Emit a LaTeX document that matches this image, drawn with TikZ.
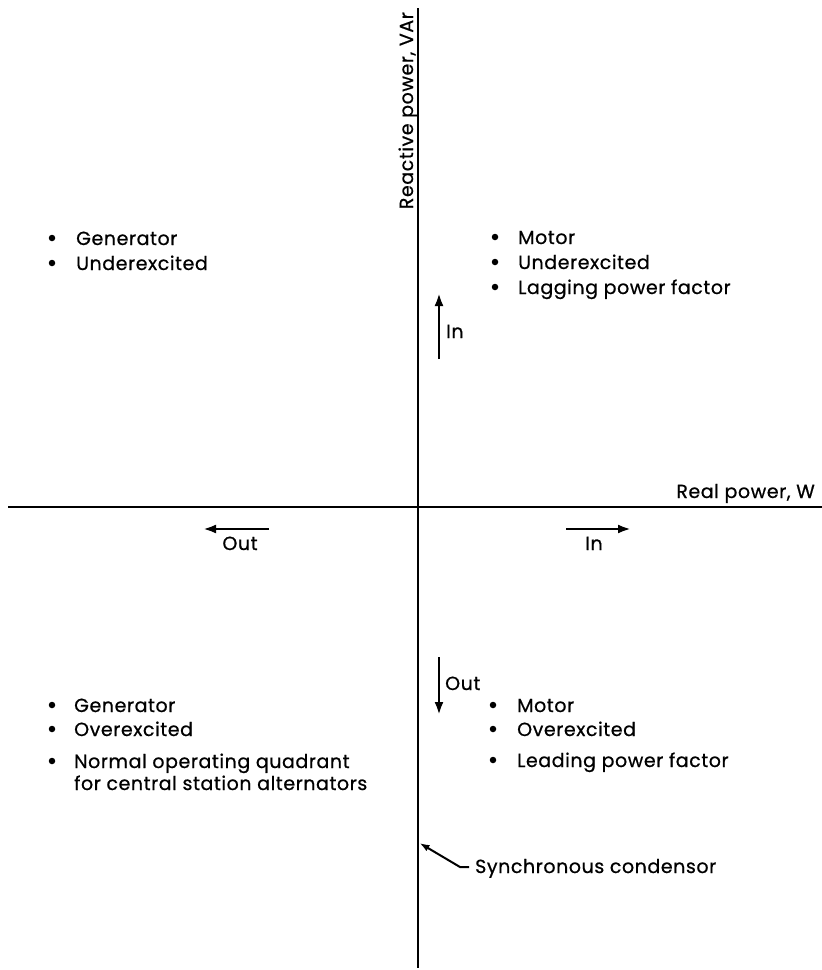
\documentclass[tikz,border=0pt]{standalone}
\usepackage{fontspec}
\newfontfamily\lbfont[LetterSpace=3,FakeBold=0.7]{Poppins}
\usetikzlibrary{arrows.meta}
\begin{document}
\begin{tikzpicture}[x=1pt,y=-1pt,
  lbl/.style={font=\lbfont\fontsize{19}{22}\selectfont, inner sep=0pt, anchor=base west},
  axisline/.style={line width=1.8pt},
  dirarrow/.style={line width=2.8pt, -{Latex[length=13pt,width=9pt]}},
  leader/.style={line width=2pt, -{Latex[length=10pt,width=7pt]}},
  dot/.style={circle, fill=black, inner sep=0pt, minimum size=6.5pt}]
\useasboundingbox (0,0) rectangle (822,970);
% axes
\coordinate (vtop) at (418,8);
\coordinate (vbot) at (418,968);
\coordinate (hleft) at (8,507);
\coordinate (hright) at (822,507);
\draw[axisline] (vtop) -- (vbot);
\draw[axisline] (hleft) -- (hright);
\node[lbl, anchor=base east, rotate=90] (ylab) at (413,12) {Reactive power, VAr};
\node[lbl, anchor=base east] (xlab) at (815,498) {Real power, W};
% direction arrows
\coordinate (inqa) at (439,359);
\coordinate (inqb) at (439,293);
\draw[dirarrow] (inqa) -- (inqb);
\node[lbl] (inq) at (446,338) {In};
\coordinate (outpa) at (269,529);
\coordinate (outpb) at (203,529);
\draw[dirarrow] (outpa) -- (outpb);
\node[lbl, anchor=base] (outp) at (240,550) {Out};
\coordinate (inpa) at (566,529);
\coordinate (inpb) at (631,529);
\draw[dirarrow] (inpa) -- (inpb);
\node[lbl, anchor=base] (inp) at (594,550) {In};
\coordinate (outqa) at (439,657);
\coordinate (outqb) at (439,715);
\draw[dirarrow] (outqa) -- (outqb);
\node[lbl] (outq) at (445,690) {Out};
% upper left
\node[dot] (d1) at (52,238) {};
\node[lbl] (t1) at (76,245) {Generator};
\node[dot] (d2) at (52,263) {};
\node[lbl] (t2) at (76,270) {Underexcited};
% upper right
\node[dot] (d3) at (495,237) {};
\node[lbl] (t3) at (518,244) {Motor};
\node[dot] (d4) at (495,262) {};
\node[lbl] (t4) at (518,269) {Underexcited};
\node[dot] (d5) at (495,287) {};
\node[lbl] (t5) at (518,294) {Lagging power factor};
% lower left
\node[dot] (d6) at (52,705) {};
\node[lbl] (t6) at (74,712) {Generator};
\node[dot] (d7) at (52,729) {};
\node[lbl] (t7) at (74,736) {Overexcited};
\node[dot] (d8) at (52,761) {};
\node[lbl] (t8) at (74,768) {Normal operating quadrant};
\node[lbl] (t9) at (74,790) {for central station alternators};
% lower right
\node[dot] (d9) at (493,705) {};
\node[lbl] (t10) at (517,712) {Motor};
\node[dot] (d10) at (493,729) {};
\node[lbl] (t11) at (517,736) {Overexcited};
\node[dot] (d11) at (493,760) {};
\node[lbl] (t12) at (517,767) {Leading power factor};
% synchronous condensor
\node[lbl] (sync) at (475,873) {Synchronous condensor};
\coordinate (synctip) at (419.5,843);
\coordinate (syncbend) at (460,867);
\draw[leader] (sync.west |- syncbend) ++(-6,0) -- (syncbend) -- (synctip);
\end{tikzpicture}
\end{document}
